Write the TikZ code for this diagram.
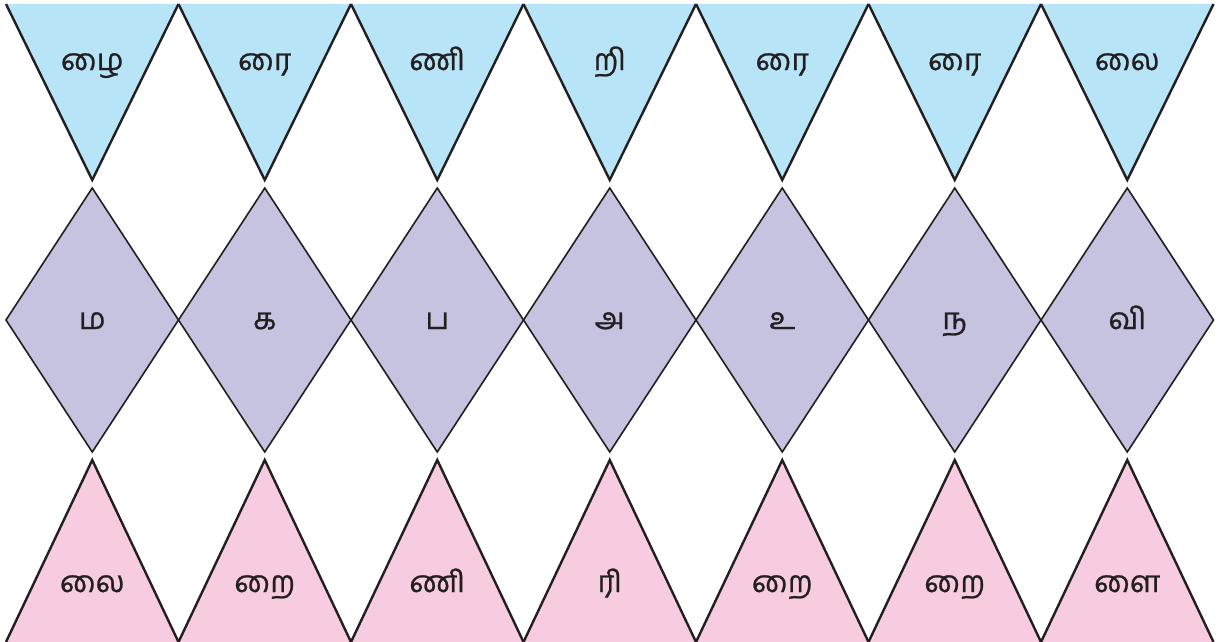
\documentclass[tikz,border=0pt]{standalone}
\usepackage{fontspec}
\newfontfamily\tamilfont[Script=Tamil,FakeBold=0.8]{Hind Madurai}
\definecolor{topblue}{RGB}{184,228,248}
\definecolor{midlav}{RGB}{197,195,224}
\definecolor{botpink}{RGB}{247,204,224}
\definecolor{ink}{RGB}{35,31,32}
\tikzset{
  lbl/.style={font=\tamilfont\fontsize{30}{36}\selectfont, text=ink, inner sep=0pt, anchor=base},
  triside/.style={draw=ink, line width=2.4pt, miter limit=20, line join=miter},
  diaside/.style={draw=ink, line width=1.6pt, miter limit=20, line join=miter},
}
\begin{document}
\begin{tikzpicture}[x=1pt,y=-1pt]
\useasboundingbox[fill=white] (0,0) rectangle (1220,641);
% top row: downward triangles
\foreach \i/\t in {0/ழை,1/ரை,2/ணி,3/றி,4/ரை,5/ரை,6/லை}{
  \pgfmathsetmacro{\xa}{6+172.5*\i}
  \pgfmathsetmacro{\xb}{\xa+172.5}
  \pgfmathsetmacro{\xc}{\xa+86.25}
  \fill[topblue] (\xa,4) -- (\xb,4) -- (\xc,180) -- cycle;
  \draw[triside] (\xa,4) -- (\xc,180) -- (\xb,4);
  \node[lbl] (top\i) at (\xc,70) {\t};
}
% middle row: diamonds
\foreach \i/\t in {0/ம,1/க,2/ப,3/அ,4/உ,5/ந,6/வி}{
  \pgfmathsetmacro{\xa}{6+172.5*\i}
  \pgfmathsetmacro{\xb}{\xa+172.5}
  \pgfmathsetmacro{\xc}{\xa+86.25}
  \filldraw[fill=midlav, diaside] (\xa,320) -- (\xc,188) -- (\xb,320) -- (\xc,452) -- cycle;
  \node[lbl] (mid\i) at (\xc,329) {\t};
}
% bottom row: upward triangles
\foreach \i/\t in {0/லை,1/றை,2/ணி,3/ரி,4/றை,5/றை,6/ளை}{
  \pgfmathsetmacro{\xa}{6+172.5*\i}
  \pgfmathsetmacro{\xb}{\xa+172.5}
  \pgfmathsetmacro{\xc}{\xa+86.25}
  \fill[botpink] (\xa,642) -- (\xc,460) -- (\xb,642) -- cycle;
  \draw[triside] (\xa,642) -- (\xc,460) -- (\xb,642);
  \node[lbl] (bot\i) at (\xc,592) {\t};
}
\end{tikzpicture}
\end{document}
